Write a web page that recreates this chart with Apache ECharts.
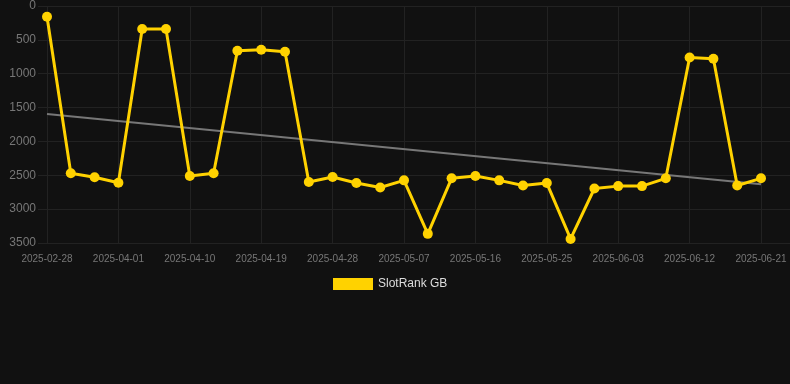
<!DOCTYPE html>
<html>
<head>
<meta charset="utf-8">
<script src="https://cdn.jsdelivr.net/npm/echarts@6/dist/echarts.min.js"></script>
<style>
html,body{margin:0;padding:0;background:#111111;}
#chart{width:790px;height:384px;}
</style>
</head>
<body>
<div id="chart"></div>
<script>
const dates = [
  '2025-02-28','2025-03-26','2025-03-29','2025-04-01','2025-04-04','2025-04-07',
  '2025-04-10','2025-04-13','2025-04-16','2025-04-19','2025-04-22','2025-04-25',
  '2025-04-28','2025-05-01','2025-05-04','2025-05-07','2025-05-10','2025-05-13',
  '2025-05-16','2025-05-19','2025-05-22','2025-05-25','2025-05-28','2025-05-31',
  '2025-06-03','2025-06-06','2025-06-09','2025-06-12','2025-06-15','2025-06-18',
  '2025-06-21'
];
const rankGB = [
  160, 2470, 2530, 2610, 340, 340,
  2510, 2470, 660, 645, 675, 2600,
  2525, 2615, 2680, 2575, 3365, 2545,
  2510, 2575, 2650, 2615, 3440, 2695,
  2660, 2660, 2545, 760, 780, 2650,
  2545
];
const trendStart = 1595;
const trendEnd = 2634;
const yTicks = { min: 0, max: 3500, step: 500 };
const seriesName = 'SlotRank GB';

const trend = dates.map((d, i) => i === 0 ? trendStart : (i === dates.length - 1 ? trendEnd : null));
const font = 'Liberation Sans, Arial, sans-serif';

const chart = echarts.init(document.getElementById('chart'));
chart.setOption({
  backgroundColor: '#111111',
  animation: false,
  grid: [
    { left: 47, right: 29, top: 6, bottom: 141 },
    { left: 38, right: 0, top: 6, bottom: 141 }
  ],
  legend: {
    data: [seriesName],
    top: 273,
    left: 328,
    icon: 'rect',
    itemWidth: 40,
    itemHeight: 12,
    textStyle: { color: '#dddddd', fontSize: 12, fontFamily: font }
  },
  xAxis: [
    {
      type: 'category',
      gridIndex: 0,
      data: dates,
      boundaryGap: false,
      axisLine: { show: false },
      axisTick: { show: false },
      axisLabel: { interval: 2, color: '#777777', fontSize: 10, margin: 11, fontFamily: font },
      splitLine: { show: true, interval: 2, lineStyle: { color: '#222222', width: 1 } }
    },
    {
      type: 'category',
      gridIndex: 1,
      data: dates,
      show: false
    }
  ],
  yAxis: [
    {
      type: 'value',
      gridIndex: 0,
      inverse: true,
      min: yTicks.min,
      max: yTicks.max,
      interval: yTicks.step,
      axisLine: { show: false },
      axisTick: { show: false },
      axisLabel: { color: '#777777', fontSize: 12, margin: 11, fontFamily: font, formatter: v => String(v) },
      splitLine: { show: false }
    },
    {
      type: 'value',
      gridIndex: 1,
      inverse: true,
      min: yTicks.min,
      max: yTicks.max,
      interval: yTicks.step,
      axisLine: { show: false },
      axisTick: { show: false },
      axisLabel: { show: false },
      splitLine: { show: true, lineStyle: { color: '#222222', width: 1 } },
      z: 0
    }
  ],
  series: [
    {
      name: 'trend',
      type: 'line',
      xAxisIndex: 0,
      yAxisIndex: 0,
      data: trend,
      connectNulls: true,
      symbol: 'none',
      lineStyle: { color: '#777777', width: 2 },
      z: 1,
      silent: true
    },
    {
      name: seriesName,
      type: 'line',
      xAxisIndex: 0,
      yAxisIndex: 0,
      data: rankGB,
      symbol: 'circle',
      symbolSize: 10,
      itemStyle: { color: '#FFD200' },
      lineStyle: { color: '#FFD200', width: 3 },
      z: 2
    }
  ]
});
</script>
</body>
</html>
